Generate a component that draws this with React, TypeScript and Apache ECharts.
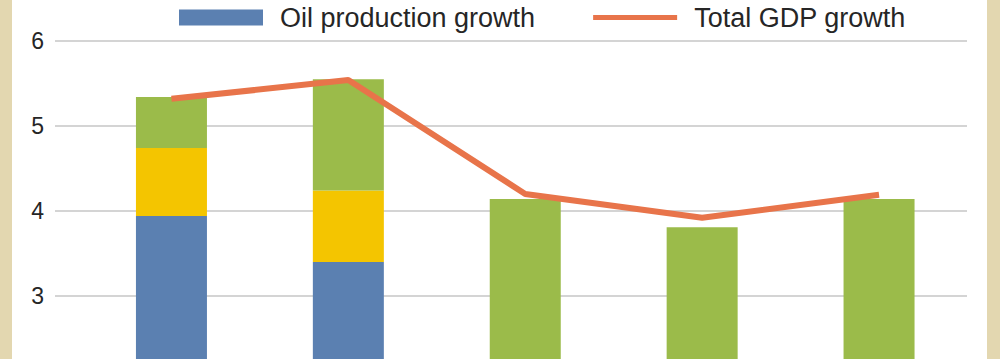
import React, { useEffect, useRef } from "react";
import * as echarts from "echarts";

const categories = ["2012", "2013", "2014", "2015", "2016"];
const oilProduction = [3.94, 3.4, 0, 0, 0];
const secondComponent = [0.8, 0.84, 0, 0, 0];
const nonOilComponent = [0.6, 1.31, 4.14, 3.81, 4.14];
const totalGdp = [5.32, 5.54, 4.2, 3.92, 4.19];
const yTicks = [2, 3, 4, 5, 6];

const lineIcon =
  "path://M0,0 L0.05,0 L0.05,0.05 Z M88,16 L87.95,16 L87.95,15.95 Z M0,5.5 L88,5.5 L88,10.5 L0,10.5 Z";

export default function App() {
  const ref = useRef<HTMLDivElement>(null);
  useEffect(() => {
    if (!ref.current) return;
    const chart = echarts.init(ref.current, undefined, { renderer: "svg" });
    const font = "Liberation Sans, Arial, sans-serif";
    const yMin = yTicks[0];
    const yMax = yTicks[yTicks.length - 1];
    chart.setOption({
      animation: false,
      backgroundColor: "transparent",
      grid: [
        { left: 55, right: 33, top: 41, bottom: 19 },
        { left: 83, right: 32.5, top: 41, bottom: 19 },
      ],
      legend: {
        left: 179,
        top: 4,
        padding: 0,
        itemWidth: 84,
        itemHeight: 16,
        itemGap: 58,
        data: [
          { name: "Oil production growth", icon: "rect" },
          { name: "Total GDP growth", icon: lineIcon },
        ],
        textStyle: {
          fontFamily: font,
          fontSize: 27,
          color: "#262626",
          padding: [0, 0, 0, 12],
        },
      },
      xAxis: [
        { type: "value", gridIndex: 0, show: false, splitLine: { show: false } },
        {
          type: "category",
          gridIndex: 1,
          data: categories,
          show: false,
        },
      ],
      yAxis: [
        {
          type: "value",
          gridIndex: 0,
          min: yMin,
          max: yMax,
          interval: 1,
          axisLine: { show: false },
          axisTick: { show: false },
          axisLabel: {
            fontFamily: font,
            fontSize: 23,
            color: "#262626",
            margin: 11,
            showMinLabel: false,
          },
          splitLine: { lineStyle: { color: "#d4d4d4", width: 2 } },
        },
        {
          type: "value",
          gridIndex: 1,
          min: yMin,
          max: yMax,
          interval: 1,
          show: false,
          splitLine: { show: false },
        },
      ],
      series: [
        {
          name: "Oil production growth",
          type: "bar",
          stack: "g",
          xAxisIndex: 1,
          yAxisIndex: 1,
          barWidth: 71,
          itemStyle: { color: "#5b80b1" },
          data: oilProduction,
        },
        {
          name: "Oil price effect",
          type: "bar",
          stack: "g",
          xAxisIndex: 1,
          yAxisIndex: 1,
          barWidth: 71,
          itemStyle: { color: "#f4c500" },
          data: secondComponent,
        },
        {
          name: "Non-oil growth",
          type: "bar",
          stack: "g",
          xAxisIndex: 1,
          yAxisIndex: 1,
          barWidth: 71,
          itemStyle: { color: "#9bbb4a" },
          data: nonOilComponent,
        },
        {
          name: "Total GDP growth",
          type: "line",
          xAxisIndex: 1,
          yAxisIndex: 1,
          symbol: "none",
          showSymbol: false,
          lineStyle: { color: "#e8744a", width: 6 },
          itemStyle: { color: "#e8744a" },
          data: totalGdp,
        },
      ],
    });
    return () => chart.dispose();
  }, []);
  return (
    <div
      style={{
        position: "fixed",
        left: 0,
        top: 0,
        width: 1000,
        height: 359,
        overflow: "hidden",
        background: "#e3d7b0",
      }}
    >
      <div
        style={{
          position: "absolute",
          left: 12,
          top: 0,
          width: 975,
          height: 359,
          background: "#ffffff",
        }}
      />
      <div
        ref={ref}
        style={{ position: "absolute", left: 0, top: 0, width: 1000, height: 400 }}
      />
    </div>
  );
}
